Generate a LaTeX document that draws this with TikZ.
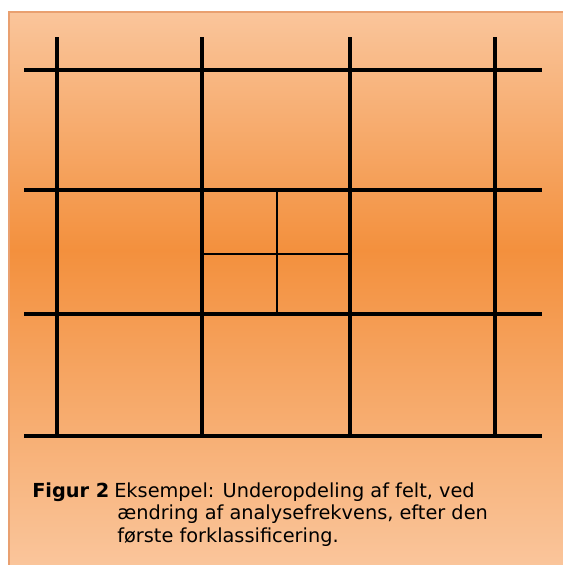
\documentclass[tikz,border=0pt]{standalone}
\usepackage{fontspec}
\setmainfont{DejaVu Sans}
\definecolor{paleorange}{HTML}{FAC59B}
\definecolor{deeporange}{HTML}{F3903D}
\definecolor{edgeorange}{HTML}{E9A070}
\newcommand{\captext}{\fontsize{11}{13}\selectfont}

\begin{document}
\begin{tikzpicture}[x=0.02cm, y=-0.02cm, line width=2.6pt]
  \useasboundingbox (0,0) rectangle (563,565);
  % background panel
  \shade[top color=paleorange, bottom color=deeporange] (9,12) rectangle (563,251);
  \shade[top color=deeporange, bottom color=paleorange] (9,250) rectangle (563,565);
  \draw[edgeorange, line width=0.8pt] (9,565) -- (9,12) -- (563,12);
  % coarse grid
  \foreach \x in {57, 202, 350, 495} { \draw (\x,37) -- (\x,437); }
  \foreach \y in {70, 190, 314, 436} { \draw (24,\y) -- (542,\y); }
  % subdivided field
  \draw[line width=1.3pt] (277,190) -- (277,314);
  \draw[line width=1.3pt] (202,254) -- (350,254);
  % caption
  \node[anchor=base west, inner sep=0pt, font=\captext\bfseries] (figlabel) at (30,497) {Figur 2};
  \node[anchor=base west, inner sep=0pt, font=\captext] (capline1) at (112,497) {Eksempel: Underopdeling af felt, ved};
  \node[anchor=base west, inner sep=0pt, font=\captext] (capline2) at (115,519.5) {ændring af analysefrekvens, efter den};
  \node[anchor=base west, inner sep=0pt, font=\captext] (capline3) at (115,542) {første forklassificering.};
\end{tikzpicture}
\end{document}
